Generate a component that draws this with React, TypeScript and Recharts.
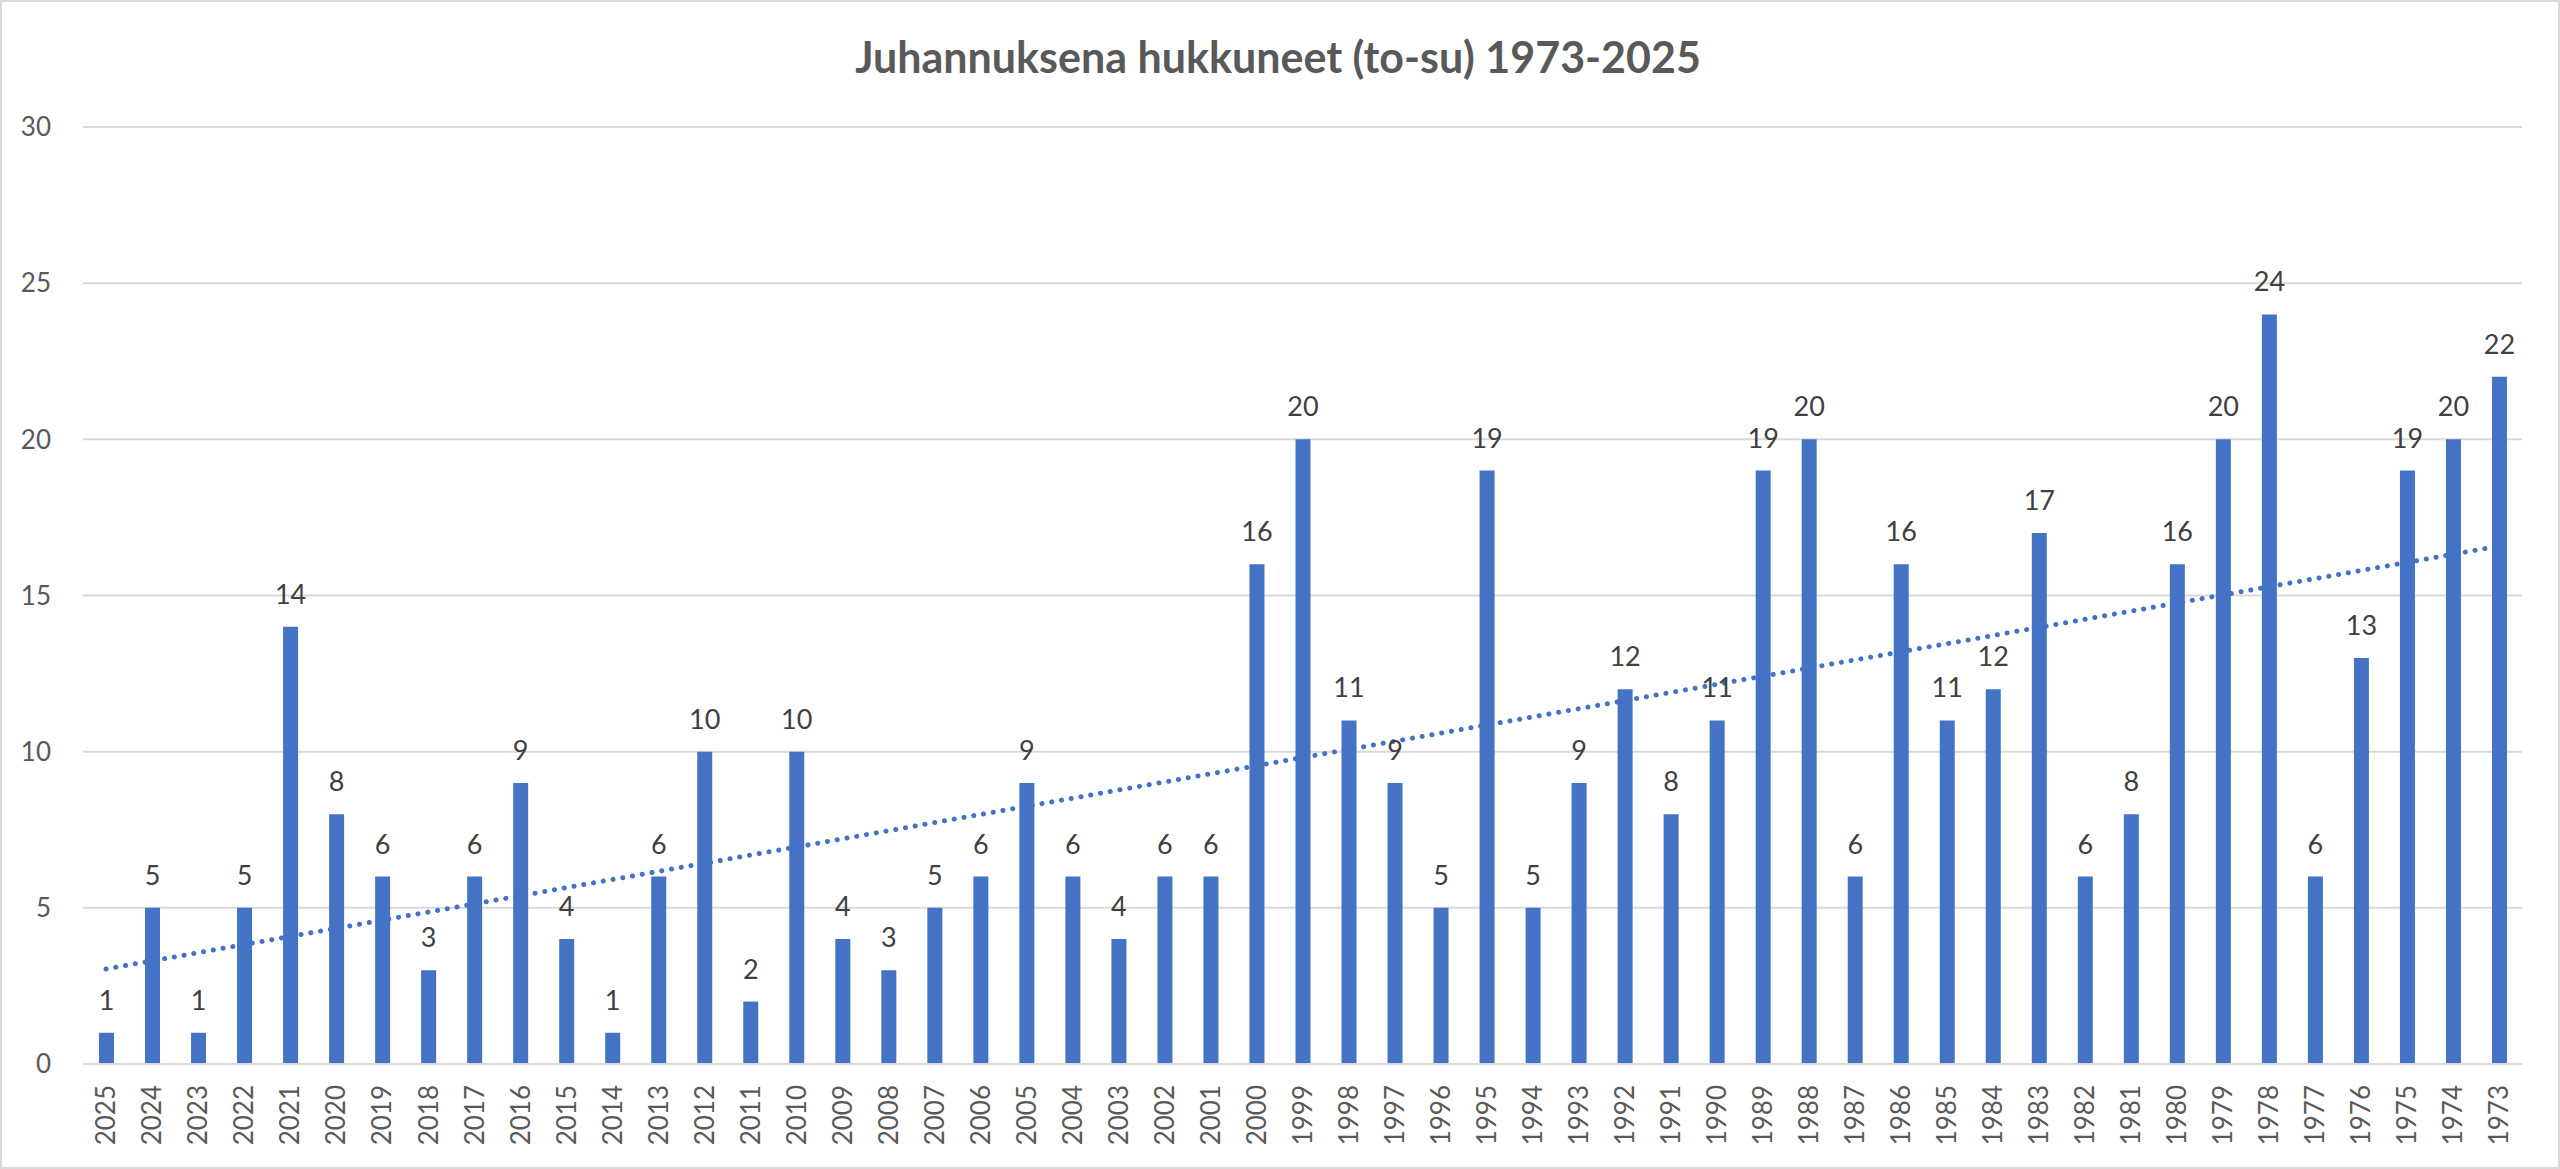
import { BarChart, Bar, XAxis, YAxis, CartesianGrid, LabelList, ReferenceLine } from "recharts";

const years = [
  "2025", "2024", "2023", "2022", "2021", "2020", "2019", "2018", "2017", "2016",
  "2015", "2014", "2013", "2012", "2011", "2010", "2009", "2008", "2007", "2006",
  "2005", "2004", "2003", "2002", "2001", "2000", "1999", "1998", "1997", "1996",
  "1995", "1994", "1993", "1992", "1991", "1990", "1989", "1988", "1987", "1986",
  "1985", "1984", "1983", "1982", "1981", "1980", "1979", "1978", "1977", "1976",
  "1975", "1974", "1973",
];

const drowned = [
  1, 5, 1, 5, 14, 8, 6, 3, 6, 9,
  4, 1, 6, 10, 2, 10, 4, 3, 5, 6,
  9, 6, 4, 6, 6, 16, 20, 11, 9, 5,
  19, 5, 9, 12, 8, 11, 19, 20, 6, 16,
  11, 12, 17, 6, 8, 16, 20, 24, 6, 13,
  19, 20, 22,
];

const yTicks = [0, 5, 10, 15, 20, 25, 30];

const TITLE = "Juhannuksena hukkuneet (to-su) 1973-2025";
const FONT = "Lato, 'Open Sans', sans-serif";
const BLUE = "#4472C4";
const GRID = "#d9d9d9";

const data = years.map((year, i) => ({ year, value: drowned[i] }));

// linear trendline (least squares over category index), like Excel's
const n = drowned.length;
const meanX = (n - 1) / 2;
const meanY = drowned.reduce((s, v) => s + v, 0) / n;
let sxy = 0;
let sxx = 0;
drowned.forEach((v, i) => {
  sxy += (i - meanX) * (v - meanY);
  sxx += (i - meanX) * (i - meanX);
});
const slope = sxy / sxx;
const trendStart = meanY - slope * meanX;
const trendEnd = trendStart + slope * (n - 1);

const YearTick = ({ x, y, payload }: any) => (
  <g transform={`translate(${x},${y})`}>
    <text
      transform="rotate(-90)"
      x={-21}
      y={0}
      dy="0.36em"
      textAnchor="end"
      fill="#595959"
      fontSize={26}
      fontFamily={FONT}
    >
      {payload.value}
    </text>
  </g>
);

export default function App() {
  return (
    <div style={{ position: "absolute", left: 0, top: 0, width: 2560, height: 1169, background: "#fff" }}>
      <svg width={2560} height={110} style={{ position: "absolute", left: 0, top: 0 }}>
        <text x={1278} y={73} textAnchor="middle" fill="#595959" fontSize={43} fontWeight={700} fontFamily={FONT}>
          {TITLE}
        </text>
      </svg>
      <div style={{ position: "absolute", left: 0, top: 0 }}>
        <BarChart width={2560} height={1169} data={data} margin={{ top: 127, right: 38, bottom: 0, left: 0 }}>
          <CartesianGrid vertical={false} stroke={GRID} strokeWidth={2} />
          <XAxis
            dataKey="year"
            interval={0}
            height={105}
            tickSize={0}
            tickMargin={0}
            tickLine={false}
            axisLine={{ stroke: GRID, strokeWidth: 2 }}
            tick={<YearTick />}
          />
          <YAxis
            domain={[0, 30]}
            ticks={yTicks}
            width={83}
            axisLine={false}
            tickLine={false}
            tickMargin={26}
            tick={{ fill: "#595959", fontSize: 26, fontFamily: FONT }}
          />
          <Bar dataKey="value" fill={BLUE} barSize={15} isAnimationActive={false}>
            <LabelList dataKey="value" position="top" offset={23} fill="#404040" fontSize={27} fontFamily={FONT} />
          </Bar>
          <ReferenceLine
            segment={[{ x: years[0], y: trendStart }, { x: years[n - 1], y: trendEnd }]}
            stroke={BLUE}
            strokeWidth={5}
            strokeDasharray="0.1 9.8"
            strokeLinecap="round"
          />
        </BarChart>
      </div>
      <div
        style={{
          position: "absolute",
          left: 0,
          top: 0,
          width: 2560,
          height: 1169,
          boxSizing: "border-box",
          border: `2px solid ${GRID}`,
          pointerEvents: "none",
        }}
      />
    </div>
  );
}
